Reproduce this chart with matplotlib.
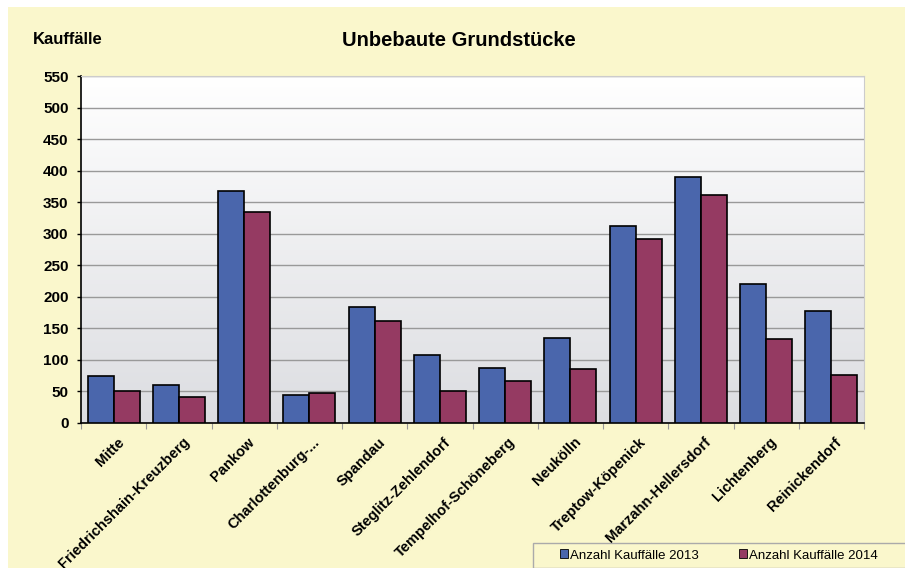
import numpy as np
import matplotlib; matplotlib.use("Agg")
import matplotlib.pyplot as plt
from matplotlib.colors import LinearSegmentedColormap
from matplotlib.patches import Rectangle

plt.rcParams['font.family'] = ['Liberation Sans', 'DejaVu Sans']

bezirke = ["Mitte", "Friedrichshain-Kreuzberg", "Pankow", "Charlottenburg-...",
           "Spandau", "Steglitz-Zehlendorf", "Tempelhof-Schöneberg", "Neukölln",
           "Treptow-Köpenick", "Marzahn-Hellersdorf", "Lichtenberg", "Reinickendorf"]
kauf_2013 = [75, 61, 367, 44, 184, 107, 87, 135, 313, 390, 221, 177]
kauf_2014 = [51, 42, 334, 47, 162, 51, 66, 86, 292, 361, 133, 76]
yticks = list(range(0, 551, 50))

BLUE, MAROON = "#4A66AC", "#953A62"
BG = "#FAF7CC"

fig = plt.figure(figsize=(9.05, 5.68), dpi=100, facecolor="white")
fig.patches.append(Rectangle((8 / 905, 0), 1, 1 - 7 / 568, transform=fig.transFigure,
                             facecolor=BG, edgecolor="none", zorder=-10))
ax = fig.add_axes([81 / 905, 1 - 423 / 568, (864 - 81) / 905, (423 - 76) / 568])
ax.set_facecolor("none")

x = np.arange(len(bezirke))
w = 0.4
ax.set_xlim(-0.5, len(bezirke) - 0.5)
ax.set_ylim(0, 550)

# gradient plot background
grad = LinearSegmentedColormap.from_list("g", ["#DCDDE1", "#FFFFFF"])
ax.imshow(np.linspace(0, 1, 256).reshape(-1, 1), cmap=grad, origin="lower",
          extent=[-0.5, len(bezirke) - 0.5, 0, 550], aspect="auto", zorder=0)

ax.bar(x - w / 2, kauf_2013, w, color=BLUE, edgecolor="black", lw=1.2, zorder=3,
       label="Anzahl Kauffälle 2013")
ax.bar(x + w / 2, kauf_2014, w, color=MAROON, edgecolor="black", lw=1.2, zorder=3,
       label="Anzahl Kauffälle 2014")

ax.set_yticks(yticks)
ax.set_yticklabels([str(v) for v in yticks], fontsize=11, fontweight="bold")
ax.yaxis.grid(True, color="#999999", lw=1, zorder=1)
ax.tick_params(axis="y", length=3, width=1, pad=6)

ax.set_xticks(np.arange(len(bezirke) + 1) - 0.5, minor=False)
ax.set_xticklabels([])
ax.tick_params(axis="x", length=4, width=0.8, color="#999999")
for xi, name in zip(x, bezirke):
    ax.text(xi + 0.05, -19, name, rotation=45, ha="right", va="top",
            rotation_mode="anchor", fontsize=10.5, fontweight="bold")

for s in ["top", "right"]:
    ax.spines[s].set_color("#CCCCCC")
ax.spines["left"].set_color("black")
ax.spines["bottom"].set_color("black")
ax.spines["left"].set_linewidth(1.2)
ax.spines["bottom"].set_linewidth(1.2)

fig.text(33 / 905, 1 - 40 / 568, "Kauffälle", fontsize=12, fontweight="bold",
         va="center", ha="left")
fig.text(459 / 905, 1 - 41 / 568, "Unbebaute Grundstücke", fontsize=14.5, fontweight="bold",
         va="center", ha="center")

# legend box
fig.patches.append(Rectangle((533 / 905, 0), 380 / 905, 25 / 568, transform=fig.transFigure,
                             facecolor=BG, edgecolor="#AAAAAA", lw=1, zorder=5))
leg = fig.legend(loc="center", bbox_to_anchor=(719 / 905, 12.5 / 568), ncol=2, fontsize=9.5,
                 frameon=False, handlelength=0.65, handleheight=0.65,
                 handletextpad=0.15, columnspacing=3.0, borderpad=0, borderaxespad=0)
leg.set_zorder(6)
for h in leg.legend_handles:
    h.set_linewidth(0.6)

fig.savefig("out.png", dpi=100, facecolor="white")
